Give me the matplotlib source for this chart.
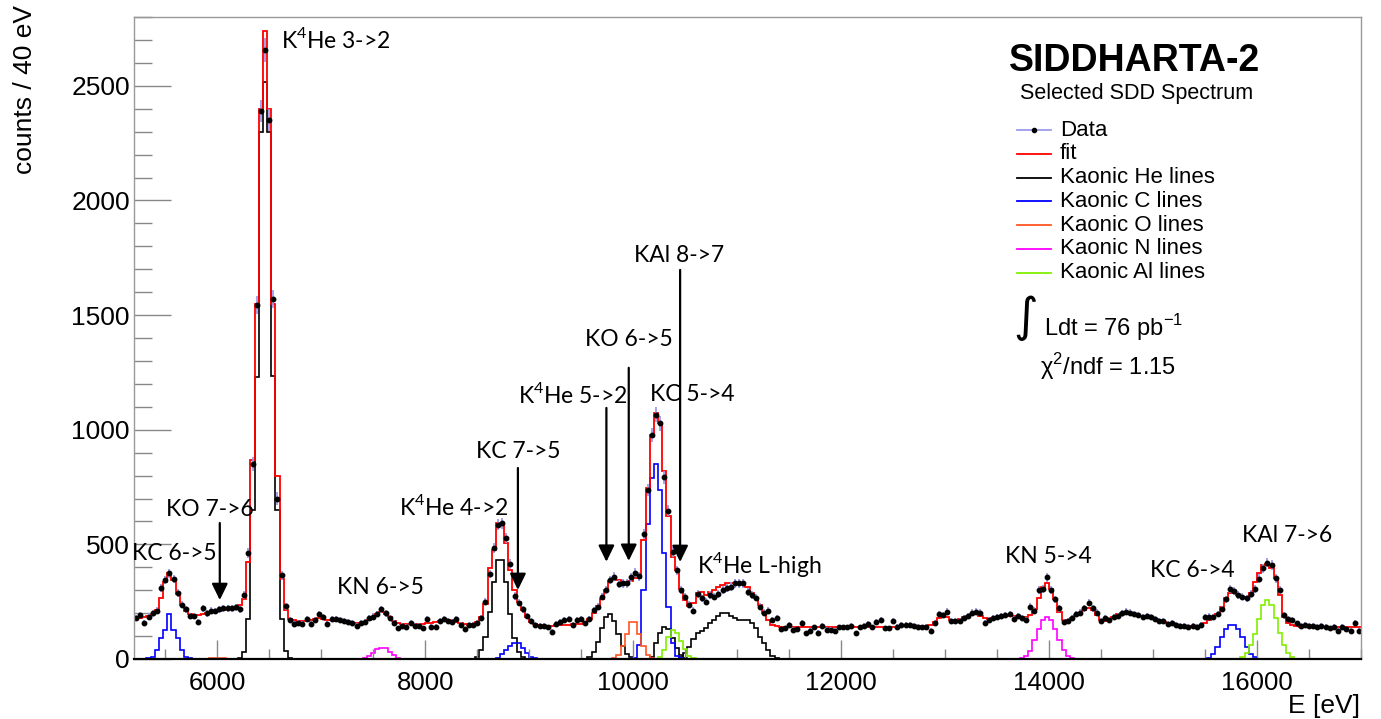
import numpy as np
import matplotlib.pyplot as plt
from matplotlib.lines import Line2D
from matplotlib.ticker import MultipleLocator

plt.rcParams['font.family'] = ['Liberation Sans', 'DejaVu Sans']

W, H = 1381, 719

# binning of the spectrum (eV)
e_low = 5200
bin_width = 40

# data, counts per 40 eV bin
counts = [
    178, 192, 158, 185, 199, 211, 308, 345, 374, 348,
    289, 236, 217, 188, 188, 163, 221, 199, 211, 209,
    217, 221, 221, 221, 225, 217, 280, 462, 850, 1543,
    2390, 2657, 2350, 1571, 700, 365, 230, 170, 153, 158,
    153, 174, 153, 170, 196, 182, 153, 175, 173, 170,
    167, 163, 159, 144, 156, 163, 177, 185, 196, 217,
    199, 177, 156, 134, 144, 141, 156, 144, 144, 134,
    175, 141, 141, 167, 173, 167, 163, 173, 148, 129,
    148, 148, 156, 177, 250, 371, 483, 585, 592, 527,
    415, 275, 246, 217, 188, 167, 148, 144, 144, 138,
    119, 153, 163, 170, 173, 148, 170, 173, 155, 173,
    214, 228, 272, 301, 345, 359, 327, 330, 330, 356,
    377, 360, 545, 737, 977, 1065, 1028, 793, 647, 468,
    388, 301, 272, 236, 211, 284, 265, 250, 279, 272,
    284, 301, 308, 316, 330, 330, 330, 294, 280, 268,
    228, 202, 211, 170, 177, 129, 134, 148, 127, 129,
    156, 112, 124, 138, 115, 144, 127, 127, 124, 138,
    138, 138, 144, 112, 138, 144, 153, 138, 163, 170,
    134, 134, 167, 141, 148, 148, 148, 144, 141, 138,
    141, 124, 156, 196, 192, 207, 167, 167, 167, 177,
    188, 202, 206, 202, 158, 170, 177, 182, 188, 192,
    196, 173, 188, 177, 170, 228, 211, 301, 304, 356,
    301, 260, 221, 163, 167, 177, 196, 202, 221, 246,
    221, 202, 167, 177, 170, 182, 188, 199, 206, 202,
    196, 192, 182, 188, 182, 173, 167, 167, 153, 158,
    148, 144, 144, 141, 144, 141, 150, 182, 185, 182,
    196, 218, 260, 305, 295, 280, 272, 265, 285, 305,
    350, 395, 420, 410, 352, 300, 190, 175, 172, 155,
    146, 148, 144, 144, 141, 144, 141, 134, 141, 124,
    141, 129, 124, 156, 124,
]

# total fit, per bin
fit = [
    177, 180, 183, 188, 196, 215, 268, 335, 375, 345,
    283, 235, 210, 198, 193, 193, 195, 199, 203, 207,
    210, 213, 216, 220, 226, 236, 262, 425, 870, 1550,
    2400, 2740, 2400, 1550, 800, 350, 214, 175, 168, 166,
    166, 167, 170, 174, 177, 176, 172, 168, 166, 165,
    163, 160, 157, 155, 155, 158, 168, 183, 198, 205,
    197, 182, 167, 157, 152, 151, 151, 151, 152, 153,
    155, 157, 160, 165, 170, 171, 168, 162, 156, 152,
    150, 152, 160, 185, 240, 396, 476, 592, 592, 505,
    388, 301, 250, 214, 185, 163, 152, 148, 146, 145,
    146, 147, 148, 149, 150, 151, 152, 154, 160, 175,
    200, 230, 262, 301, 340, 352, 345, 333, 333, 342,
    352, 355, 519, 745, 975, 1072, 1028, 822, 624, 446,
    388, 304, 257, 231, 243, 290, 294, 280, 294, 301,
    313, 323, 330, 333, 333, 330, 328, 312, 290, 265,
    235, 200, 170, 150, 143, 141, 141, 141, 141, 141,
    141, 141, 141, 141, 141, 141, 141, 141, 141, 141,
    141, 141, 141, 141, 141, 141, 141, 141, 141, 141,
    141, 141, 141, 141, 142, 142, 142, 142, 142, 142,
    143, 148, 163, 177, 188, 182, 170, 167, 173, 182,
    188, 196, 196, 188, 178, 175, 178, 181, 185, 188,
    188, 186, 184, 182, 181, 190, 217, 265, 316, 330,
    304, 260, 207, 170, 167, 177, 192, 202, 214, 221,
    214, 192, 170, 167, 173, 185, 196, 202, 202, 199,
    192, 188, 186, 182, 182, 173, 167, 163, 156, 153,
    148, 145, 143, 142, 141, 141, 145, 155, 170, 182,
    195, 228, 265, 289, 289, 279, 272, 268, 289, 337,
    374, 410, 414, 396, 352, 279, 185, 158, 148, 144,
    141, 141, 141, 141, 141, 141, 141, 141, 141, 141,
    141, 141, 141, 141, 141,
]

# line components: (lower edge of first bin in eV, counts per bin)
he_3_2 = (6200, [5, 32, 174, 650, 1230, 2300, 2517, 2300, 1235, 650, 174, 35, 5])
he_4_2 = (8480, [8, 40, 95, 205, 335, 430, 430, 335, 195, 90, 32, 8])
he_5_2 = (9560, [8, 30, 75, 135, 185, 195, 165, 110, 55, 22, 7])
he_6_2 = (10160, [10, 68, 115, 138, 129, 90, 46, 17, 5])
he_lhigh = (10440, [8, 25, 54, 86, 115, 124, 134, 155, 170, 188, 202, 202,
                    188, 177, 170, 170, 170, 155, 134, 97, 68, 39, 13, 3])
c_6_5 = (5320, [3, 10, 39, 90, 128, 195, 128, 90, 39, 10, 3])
c_7_5 = (8680, [5, 20, 40, 55, 70, 68, 50, 28, 10, 3])
c_5_4 = (10000, [5, 60, 300, 590, 790, 851, 737, 461, 228, 68, 12, 3])
c_6_4 = (15520, [3, 22, 54, 97, 129, 148, 148, 129, 97, 54, 22, 7])
o_7_6 = (5880, [2, 4, 5, 5, 4, 2])
o_6_5 = (9800, [5, 18, 55, 110, 160, 160, 110, 55, 18, 5])
n_6_5 = (7400, [3, 12, 28, 42, 50, 46, 32, 16, 5])
n_5_4 = (13720, [3, 12, 35, 83, 129, 170, 185, 170, 129, 83, 39, 13, 3])
al_8_7 = (10240, [10, 40, 95, 125, 115, 80, 42, 15, 4])
al_7_6 = (15840, [8, 25, 60, 110, 175, 235, 257, 235, 180, 115, 60, 25, 8])

groups = [
    ('Kaonic He lines', 'black', [he_3_2, he_4_2, he_5_2, he_6_2, he_lhigh]),
    ('Kaonic C lines', '#0000ff', [c_6_5, c_7_5, c_5_4, c_6_4]),
    ('Kaonic O lines', '#ff5522', [o_7_6, o_6_5]),
    ('Kaonic N lines', '#ff00ff', [n_6_5, n_5_4]),
    ('Kaonic Al lines', '#80f000', [al_8_7, al_7_6]),
]

# labels: (text, centre energy, counts height)
labels = [
    ('K$^{\\mathregular{4}}$He 3->2', 7139, 2701),
    ('KC 6->5', 5585, 459),
    ('KO 7->6', 5926, 650),
    ('KN 6->5', 7570, 314),
    ('K$^{\\mathregular{4}}$He 4->2', 8272, 663),
    ('KC 7->5', 8892, 903),
    ('K$^{\\mathregular{4}}$He 5->2', 9421, 1152),
    ('KO 6->5', 9960, 1392),
    ('KC 5->4', 10565, 1152),
    ('KAl 8->7', 10445, 1758),
    ('K$^{\\mathregular{4}}$He L-high', 11209, 414),
    ('KN 5->4', 13993, 445),
    ('KC 6->4', 15380, 388),
    ('KAl 7->6', 16286, 537),
]

# arrows: (energy, from counts, to counts)
arrows = [
    (6025, 593, 257),
    (8892, 833, 301),
    (9743, 1095, 424),
    (9958, 1270, 428),
    (10452, 1697, 423),
]


def fig_xy(x, y):
    return x / W, 1 - y / H


fig = plt.figure(figsize=(W / 100, H / 100), dpi=100)
ax = fig.add_axes([134 / W, 1 - 659 / H, 1227 / W, 642 / H])

edges = e_low + bin_width * np.arange(len(counts) + 1)
centers = edges[:-1] + bin_width / 2

for name, color, comps in groups:
    for start, vals in comps:
        e = start + bin_width * np.arange(len(vals) + 1)
        ax.stairs(vals, e, color=color, lw=1.2)

ax.stairs(fit, edges, baseline=None, color='red', lw=1.3)
ax.errorbar(centers, counts, yerr=np.sqrt(counts), fmt='o', ms=3.2,
            color='black', ecolor='#9c9cec', elinewidth=1.3, capsize=0)

for text, e, y in labels:
    ax.text(e, y, text, ha='center', va='center', fontsize=16.5,
            family=['Lato', 'DejaVu Sans'])

for e, y0, y1 in arrows:
    ax.annotate('', xy=(e, y1), xytext=(e, y0),
                arrowprops=dict(arrowstyle='-|>,head_length=0.45,head_width=0.22',
                                color='black', lw=1.6, shrinkA=0, shrinkB=0,
                                mutation_scale=22))

ax.set_xlim(5200, 17000)
ax.set_ylim(0, 2800)
ax.xaxis.set_major_locator(MultipleLocator(2000))
ax.xaxis.set_minor_locator(MultipleLocator(500))
ax.yaxis.set_major_locator(MultipleLocator(500))
ax.yaxis.set_minor_locator(MultipleLocator(100))
ax.tick_params(axis='y', which='major', direction='in', length=26.5, width=1,
               color='#888888', labelsize=19, pad=3)
ax.tick_params(axis='y', which='minor', direction='in', length=13.2, width=1,
               color='#888888')
ax.tick_params(axis='x', which='major', direction='in', length=13.5, width=1,
               color='#888888', labelsize=18.5, pad=9)
ax.tick_params(axis='x', which='minor', direction='in', length=7.5, width=1,
               color='#888888')
for side in ['top', 'right', 'left']:
    ax.spines[side].set_color('#999999')
    ax.spines[side].set_linewidth(1)
ax.spines['bottom'].set_color('black')
ax.spines['bottom'].set_linewidth(1.6)

fig.text(*fig_xy(25, 5), 'counts / 40 eV', rotation=90, ha='center', va='top',
         fontsize=19)
fig.text(*fig_xy(1360, 706), 'E [eV]', ha='right', va='center', fontsize=19)

# title block
fig.text(*fig_xy(1135, 61), 'SIDDHARTA-2', ha='center', va='center',
         fontsize=27, fontweight='heavy')
fig.text(*fig_xy(1137, 93), 'Selected SDD Spectrum', ha='center', va='center',
         fontsize=15.5)

# legend
legend_rows = [('Data', '#9c9cec')] + [('fit', 'red')] + [(g[0], g[1]) for g in groups]
for i, (name, color) in enumerate(legend_rows):
    y = 130 + 23.8 * i
    fig.add_artist(Line2D([1017 / W, 1051 / W], [1 - y / H] * 2, color=color,
                          lw=1.3, transform=fig.transFigure))
    if name == 'Data':
        fig.add_artist(Line2D([1034 / W], [1 - y / H], marker='o', ms=3,
                              color='black', transform=fig.transFigure))
    fig.text(*fig_xy(1060, y), name, ha='left', va='center', fontsize=16)

fig.text(*fig_xy(1026, 318), '\u222b', ha='center', va='center', fontsize=34,
         family=['DejaVu Sans'])
fig.text(*fig_xy(1044, 328), 'Ldt = 76 pb$^{\\mathregular{-1}}$', ha='left',
         va='center', fontsize=17)
fig.text(*fig_xy(1040, 367), '\u03c7$^{\\mathregular{2}}$/ndf = 1.15', ha='left',
         va='center', fontsize=17)

fig.savefig('out.png', dpi=100)
